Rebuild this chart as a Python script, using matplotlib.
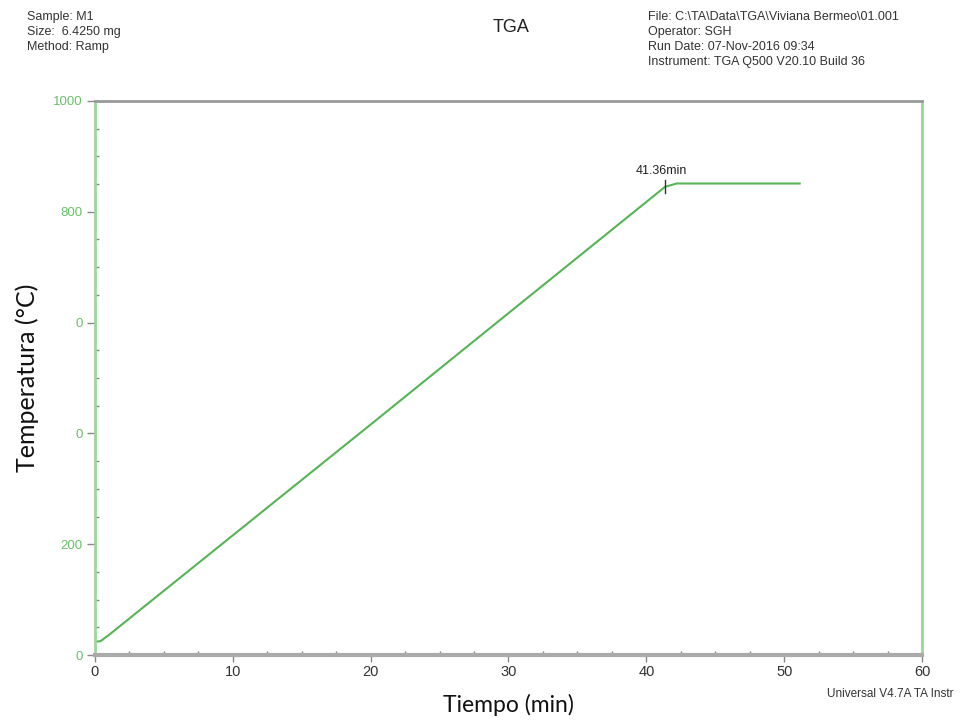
import matplotlib
matplotlib.use("Agg")
import matplotlib.pyplot as plt
from matplotlib.ticker import MultipleLocator, FixedLocator

# Temperature program of the TGA run
time_min = [0.0, 0.4, 1.0, 10.0, 20.0, 30.0, 41.36, 42.2, 51.2]
temp_c = [24, 25, 36, 216, 416, 617, 845, 851, 851]

x_ticks = [0, 10, 20, 30, 40, 50, 60]
y_ticks = [0, 200, 400, 600, 800, 1000]
y_tick_labels = ["0", "200", "0", "0", "800", "1000"]

marker_time = 41.36
marker_temp = 845
marker_label = "41.36min"

header_left = "Sample: M1\nSize:  6.4250 mg\nMethod: Ramp"
header_right = ("File: C:\\TA\\Data\\TGA\\Viviana Bermeo\\01.001\n"
                "Operator: SGH\nRun Date: 07-Nov-2016 09:34\n"
                "Instrument: TGA Q500 V20.10 Build 36")

line_green = "#55b455"
spine_green = "#9ad89a"
label_green = "#6abf6a"

fig = plt.figure(figsize=(9.69, 7.21), dpi=100)
ax = fig.add_axes([0.098, 0.0915, 0.8535, 0.7685])

ax.plot(time_min, temp_c, color=line_green, lw=1.5, solid_capstyle="butt")

# event marker at end of the ramp
ax.plot([marker_time, marker_time], [marker_temp - 12, marker_temp + 12],
        color="#333333", lw=1.0)
ax.text(marker_time - 0.3, marker_temp + 18, marker_label, ha="center",
        va="bottom", fontsize=9, color="#222222", family="Liberation Sans")

ax.set_xlim(0, 60)
ax.set_ylim(0, 1000)
ax.xaxis.set_major_locator(FixedLocator(x_ticks))
ax.xaxis.set_minor_locator(MultipleLocator(2.5))
ax.yaxis.set_major_locator(FixedLocator(y_ticks))
ax.yaxis.set_minor_locator(MultipleLocator(50))
ax.set_yticklabels(y_tick_labels)
ax.set_xticklabels([str(v) for v in x_ticks])

ax.tick_params(axis="y", which="major", length=6, width=1, color="#888888",
               labelsize=9.5, labelcolor=label_green, pad=3)
ax.tick_params(axis="y", which="minor", direction="in", length=3, width=1,
               color="#888888")
ax.tick_params(axis="x", which="major", length=5, width=1, color="#888888",
               labelsize=10.5, labelcolor="#333333", pad=2)
ax.tick_params(axis="x", which="minor", direction="in", length=3, width=1,
               color="#888888")
for lbl in ax.get_yticklabels() + ax.get_xticklabels():
    lbl.set_family("Liberation Sans")

ax.spines["left"].set_color(spine_green)
ax.spines["left"].set_linewidth(2)
ax.spines["right"].set_color(spine_green)
ax.spines["right"].set_linewidth(2)
ax.spines["top"].set_color("#999999")
ax.spines["top"].set_linewidth(2)
ax.spines["bottom"].set_color("#aaaaaa")
ax.spines["bottom"].set_linewidth(3)

ax.set_xlabel("Tiempo (min)", fontsize=16.5, color="#111111", labelpad=11,
              family="Lato")
ax.set_ylabel("Temperatura (°C)", fontsize=18, color="#111111", labelpad=10,
              family="Lato")

fig.text(0.527, 0.962, "TGA", ha="center", va="center", fontsize=13,
         family="Liberation Sans", color="#222222")
fig.text(0.028, 0.985, header_left, ha="left", va="top", fontsize=9,
         family="Liberation Sans", color="#333333", linespacing=1.35)
fig.text(0.669, 0.985, header_right, ha="left", va="top", fontsize=9,
         family="Liberation Sans", color="#333333", linespacing=1.35)
fig.text(0.853, 0.037, "Universal V4.7A TA Instr", ha="left", va="center",
         fontsize=8.5, family="Liberation Sans", color="#333333")

fig.savefig("out.png", dpi=100, facecolor="white")
